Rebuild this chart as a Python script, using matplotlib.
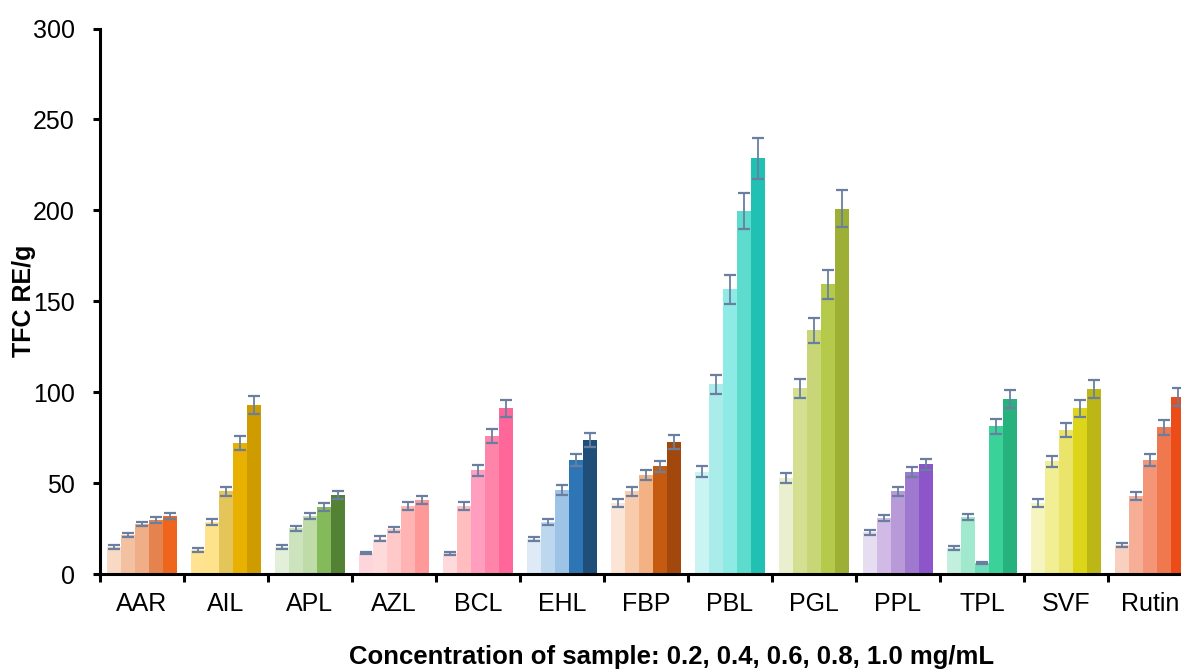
import matplotlib
matplotlib.use("Agg")
import matplotlib.pyplot as plt
import numpy as np

plt.rcParams['font.family'] = ['Liberation Sans', 'DejaVu Sans']

samples = ["AAR", "AIL", "APL", "AZL", "BCL", "EHL", "FBP", "PBL", "PGL",
           "PPL", "TPL", "SVF", "Rutin"]
concentrations = [0.2, 0.4, 0.6, 0.8, 1.0]

# mean TFC (RE/g) per sample, for concentrations 0.2..1.0 mg/mL
means = {
    "AAR":   [15.0, 21.4, 27.5, 29.7, 31.9],
    "AIL":   [13.2, 28.4, 45.6, 72.0, 92.9],
    "APL":   [15.0, 25.1, 31.9, 36.8, 43.4],
    "AZL":   [11.5, 19.5, 24.5, 37.4, 40.7],
    "BCL":   [11.3, 37.4, 57.1, 75.8, 91.2],
    "EHL":   [19.2, 28.6, 46.2, 62.6, 73.6],
    "FBP":   [39.0, 45.6, 54.4, 59.3, 72.5],
    "PBL":   [56.2, 104.4, 156.6, 199.5, 228.6],
    "PGL":   [52.7, 102.2, 134.0, 159.3, 201.0],
    "PPL":   [23.0, 31.0, 45.6, 56.0, 60.4],
    "TPL":   [14.1, 31.3, 6.0, 81.3, 96.2],
    "SVF":   [39.0, 62.0, 79.1, 91.2, 101.6],
    "Rutin": [15.9, 42.9, 62.6, 80.8, 97.3],
}
errors = {
    "AAR":   [1.1, 1.2, 1.3, 1.4, 1.5],
    "AIL":   [1.0, 1.6, 2.5, 3.7, 4.8],
    "APL":   [1.0, 1.4, 1.7, 2.0, 2.2],
    "AZL":   [0.6, 1.3, 1.6, 2.0, 2.2],
    "BCL":   [0.8, 2.1, 3.1, 3.8, 4.7],
    "EHL":   [1.3, 1.6, 2.5, 3.3, 3.8],
    "FBP":   [2.2, 2.5, 2.8, 3.1, 3.8],
    "PBL":   [3.0, 5.3, 8.0, 10.0, 11.4],
    "PGL":   [2.7, 5.2, 6.8, 8.0, 10.2],
    "PPL":   [1.4, 1.6, 2.5, 2.8, 3.1],
    "TPL":   [1.1, 1.6, 0.6, 4.1, 5.0],
    "SVF":   [2.2, 3.1, 4.0, 4.7, 5.0],
    "Rutin": [1.2, 2.3, 3.4, 4.1, 5.1],
}

palette = {
    "AAR":   ["#F7D9C4", "#F3C1A2", "#F0AE88", "#E5834E", "#EE651D"],
    "AIL":   ["#FFE391", "#FFE38C", "#E4C55A", "#E8B000", "#CF9C00"],
    "APL":   ["#E2EFD9", "#CCE3BE", "#BFDBA8", "#84BA5A", "#548235"],
    "AZL":   ["#FDD5DA", "#FFDADB", "#FFC9C9", "#FFB3B3", "#FF9999"],
    "BCL":   ["#FFD9DC", "#FFBDC0", "#FF9EBF", "#FF84AA", "#FF6699"],
    "EHL":   ["#DEEAF6", "#BDD7EE", "#9DC3E6", "#2E75B6", "#1F4E79"],
    "FBP":   ["#FBE5D6", "#F8CBAD", "#F4B183", "#C55A11", "#A3480D"],
    "PBL":   ["#C9F4F3", "#A9ECEA", "#8DEAE4", "#5DDBCC", "#20C1B3"],
    "PGL":   ["#EAEFD0", "#D4DF91", "#C8D677", "#B5C94A", "#9EAF35"],
    "PPL":   ["#E6DDF0", "#D1BAE6", "#B89AD8", "#9F78D0", "#8C55C9"],
    "TPL":   ["#C3EFDF", "#A1E9CD", "#6EDCB8", "#3BD29A", "#25B27D"],
    "SVF":   ["#F6F4BF", "#F1EE93", "#EBE46B", "#DCD51A", "#BDB617"],
    "Rutin": ["#F9CFBF", "#F6AF96", "#F39576", "#EF784F", "#EB4C18"],
}

W, H = 1181, 671
fig = plt.figure(figsize=(W / 100, H / 100), dpi=100)
ax = fig.add_axes([100 / W, 97 / H, 1092 / W, 545.5 / H])

bw = 1 / 6
err_color = "#6A7FA0"
for i, s in enumerate(samples):
    for k in range(len(concentrations)):
        x = i + (k + 1) * bw
        ax.bar(x, means[s][k], width=bw, color=palette[s][k], linewidth=0, zorder=2)
        ax.errorbar(x, means[s][k], yerr=errors[s][k], fmt='none',
                    ecolor=err_color, elinewidth=1.3, capsize=4.5, capthick=1.6,
                    zorder=3)

ax.set_xlim(0, len(samples))
ax.set_ylim(0, 300)
ax.set_yticks(np.arange(0, 301, 50))

ax.set_xticks(np.arange(0, len(samples) + 1))
ax.set_xticklabels([])
ax.set_xticks(np.arange(len(samples)) + 0.5, minor=True)
ax.set_xticklabels(samples, minor=True)
ax.tick_params(axis='x', which='major', length=6, width=2.2, direction='out', color='black')
ax.tick_params(axis='x', which='minor', length=0, pad=13, labelsize=18)
ax.tick_params(axis='y', length=5, width=2.2, direction='out', pad=13, labelsize=18)

for sp in ['top', 'right']:
    ax.spines[sp].set_visible(False)
for sp in ['left', 'bottom']:
    ax.spines[sp].set_linewidth(2.2)
    ax.spines[sp].set_color('black')
    ax.spines[sp].set_zorder(4)

ax.set_ylabel("TFC RE/g", fontsize=18, fontweight='bold')
ax.yaxis.set_label_coords(-0.059, 0.5)
ax.set_xlabel("Concentration of sample: 0.2, 0.4, 0.6, 0.8, 1.0 mg/mL",
              fontsize=18.5, fontweight='bold')
ax.xaxis.set_label_coords(0.523, -0.13)

fig.savefig("out.png", dpi=100)
